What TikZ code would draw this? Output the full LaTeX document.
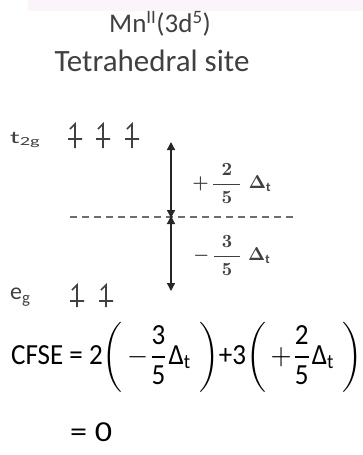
\documentclass[tikz,border=0pt]{standalone}
\usepackage{amsmath}
\usepackage{graphicx}
\usepackage{fontspec}
\setmainfont{Carlito}
\usetikzlibrary{arrows.meta}
\definecolor{inkgray}{RGB}{64,64,64}
\definecolor{dashgray}{RGB}{110,110,110}
\definecolor{bandpink}{RGB}{251,245,251}
\tikzset{
  spin/.style={draw=inkgray, line width=1.6pt},
  gap/.style={{Triangle[length=8pt,width=8pt]}-{Triangle[length=8pt,width=8pt]}, line width=1.3pt, draw=black!85},
  grey text/.style={inner sep=0pt, text=inkgray}
}
\begin{document}
\begin{tikzpicture}[x=1pt,y=-1pt]
\useasboundingbox (0,0) rectangle (363,455);
\fill[bandpink] (28,0) rectangle (363,11);
% heading
\node[grey text, font=\fontsize{27}{30}\selectfont] (ion) at (160,24) {Mn\textsuperscript{II}(3d\textsuperscript{5})};
\node[grey text, font=\fontsize{31}{34}\selectfont] (site) at (152,61) {Tetrahedral site};
% levels
\node[grey text, anchor=west] (t2g) at (10,140) {\resizebox*{31pt}{16pt}{$\mathrm{t_{2g}}$}};
\node[grey text, anchor=west] (eg) at (10,297) {\resizebox*{21pt}{18pt}{$\mathrm{e_{g}}$}};
\foreach \x in {75,103,132}
  \draw[spin] (\x-7,139) -- (\x+7,139) (\x,148) -- (\x,124) -- (\x-5,129);
\foreach \x in {77,106}
  \draw[spin] (\x-7,301) -- (\x+7,301) (\x,307) -- (\x,285) -- (\x-5,290);
\coordinate (dl) at (70,217);
\coordinate (dr) at (293,217);
\draw[dashgray, line width=2pt, dash pattern=on 7pt off 5pt] (dl) -- (dr);
% splitting
\coordinate (top) at (171,142);
\coordinate (mid) at (171,217);
\coordinate (bot) at (171,291);
\draw[gap] (top) -- ([yshift=-1pt]mid);
\draw[gap] ([yshift=1pt]mid) -- (bot);
\node[grey text, font=\boldmath] (up) at (232,183)
  {\resizebox*{79pt}{40pt}{$+\mkern2mu\dfrac{\mkern7mu 2\mkern7mu}{\mkern7mu 5\mkern7mu}\mkern5mu\Delta_{\mathrm t}$}};
\node[grey text, font=\boldmath] (down) at (232,255)
  {\resizebox*{77pt}{40pt}{$-\mkern2mu\dfrac{\mkern7mu 3\mkern7mu}{\mkern7mu 5\mkern7mu}\mkern5mu\Delta_{\mathrm t}$}};
% energy
\node[inner sep=0pt, anchor=west] (cfse) at (11,357)
  {\resizebox*{351pt}{70pt}{CFSE = 2$\left(\,-\dfrac{\text{3}}{\text{5}}\text{Δ}_{\text{t}}\;\right)$+3$\left(\,+\dfrac{\text{2}}{\text{5}}\text{Δ}_{\text{t}}\;\right)$}};
\node[inner sep=0pt, anchor=west] (zero) at (70,432.5) {\resizebox*{42pt}{19pt}{= 0}};
\end{tikzpicture}
\end{document}
